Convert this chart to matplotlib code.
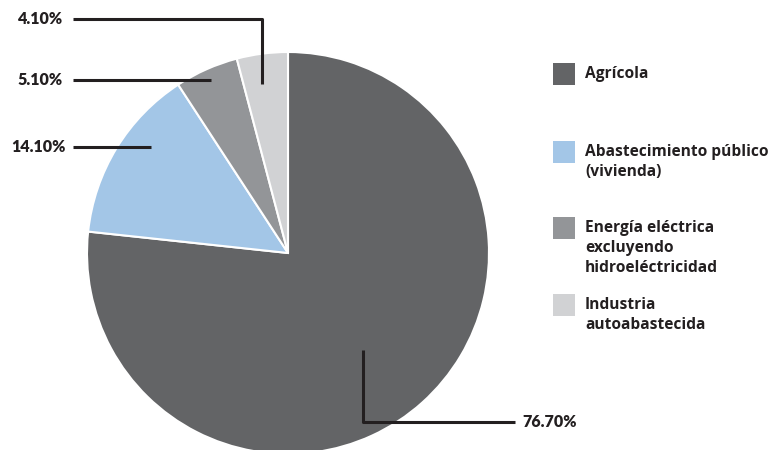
import numpy as np
import matplotlib
matplotlib.use("Agg")
import matplotlib.pyplot as plt

categories = ["Agrícola", "Abastecimiento público\n(vivienda)",
              "Energía eléctrica\nexcluyendo\nhidroeléctricidad",
              "Industria\nautoabastecida"]
values = [76.7, 14.1, 5.1, 4.1]
labels = ["76.70%", "14.10%", "5.10%", "4.10%"]
colors = ["#636466", "#a3c6e7", "#939598", "#d1d2d4"]

W, H = 775, 450
fig = plt.figure(figsize=(W / 100, H / 100), dpi=100)
ax = fig.add_axes([0, 0, 1, 1])

cx, cy, R = 288, 253, 201
# y axis is inverted (pixel coords), so start at -90 and go counterclockwise
wedges, _ = ax.pie(values, colors=colors, startangle=-90, counterclock=True,
                   center=(cx, cy), radius=R, frame=True,
                   wedgeprops=dict(edgecolor="white", linewidth=1.5))
ax.set_xlim(0, W)
ax.set_ylim(H, 0)
ax.axis("off")

lc = "#231f20"
lw = 2.2
fs_font = dict(family=["Lato", "DejaVu Sans"], fontweight="heavy", color=lc, fontsize=11.5)

# leader-line layout (pixel positions of annotation lines)
ax.plot([363, 363, 515], [350, 422, 422], color=lc, lw=lw, solid_capstyle="butt")
ax.text(522, 422, labels[0], ha="left", va="center", **fs_font)

ax.plot([73, 151], [147, 147], color=lc, lw=lw, solid_capstyle="butt")
ax.text(66, 147, labels[1], ha="right", va="center", **fs_font)

ax.plot([73, 211], [80, 80], color=lc, lw=lw, solid_capstyle="butt")
ax.text(63, 80, labels[2], ha="right", va="center", **fs_font)

ax.plot([73, 262, 262], [19, 19, 84], color=lc, lw=lw, solid_capstyle="butt")
ax.text(63, 19, labels[3], ha="right", va="center", **fs_font)

# legend
leg_y = [63, 141, 217, 294]
for cat, col, y in zip(categories, colors, leg_y):
    ax.add_patch(plt.Rectangle((553, y), 22, 22, facecolor=col, edgecolor="none"))
    for i, line in enumerate(cat.split("\n")):
        ax.text(585, y + 15 + 20 * i, line, ha="left", va="baseline", fontsize=11.2,
                color="#231f20", family=["Open Sans", "DejaVu Sans"],
                fontweight="bold")

fig.savefig("out.png", dpi=100)
